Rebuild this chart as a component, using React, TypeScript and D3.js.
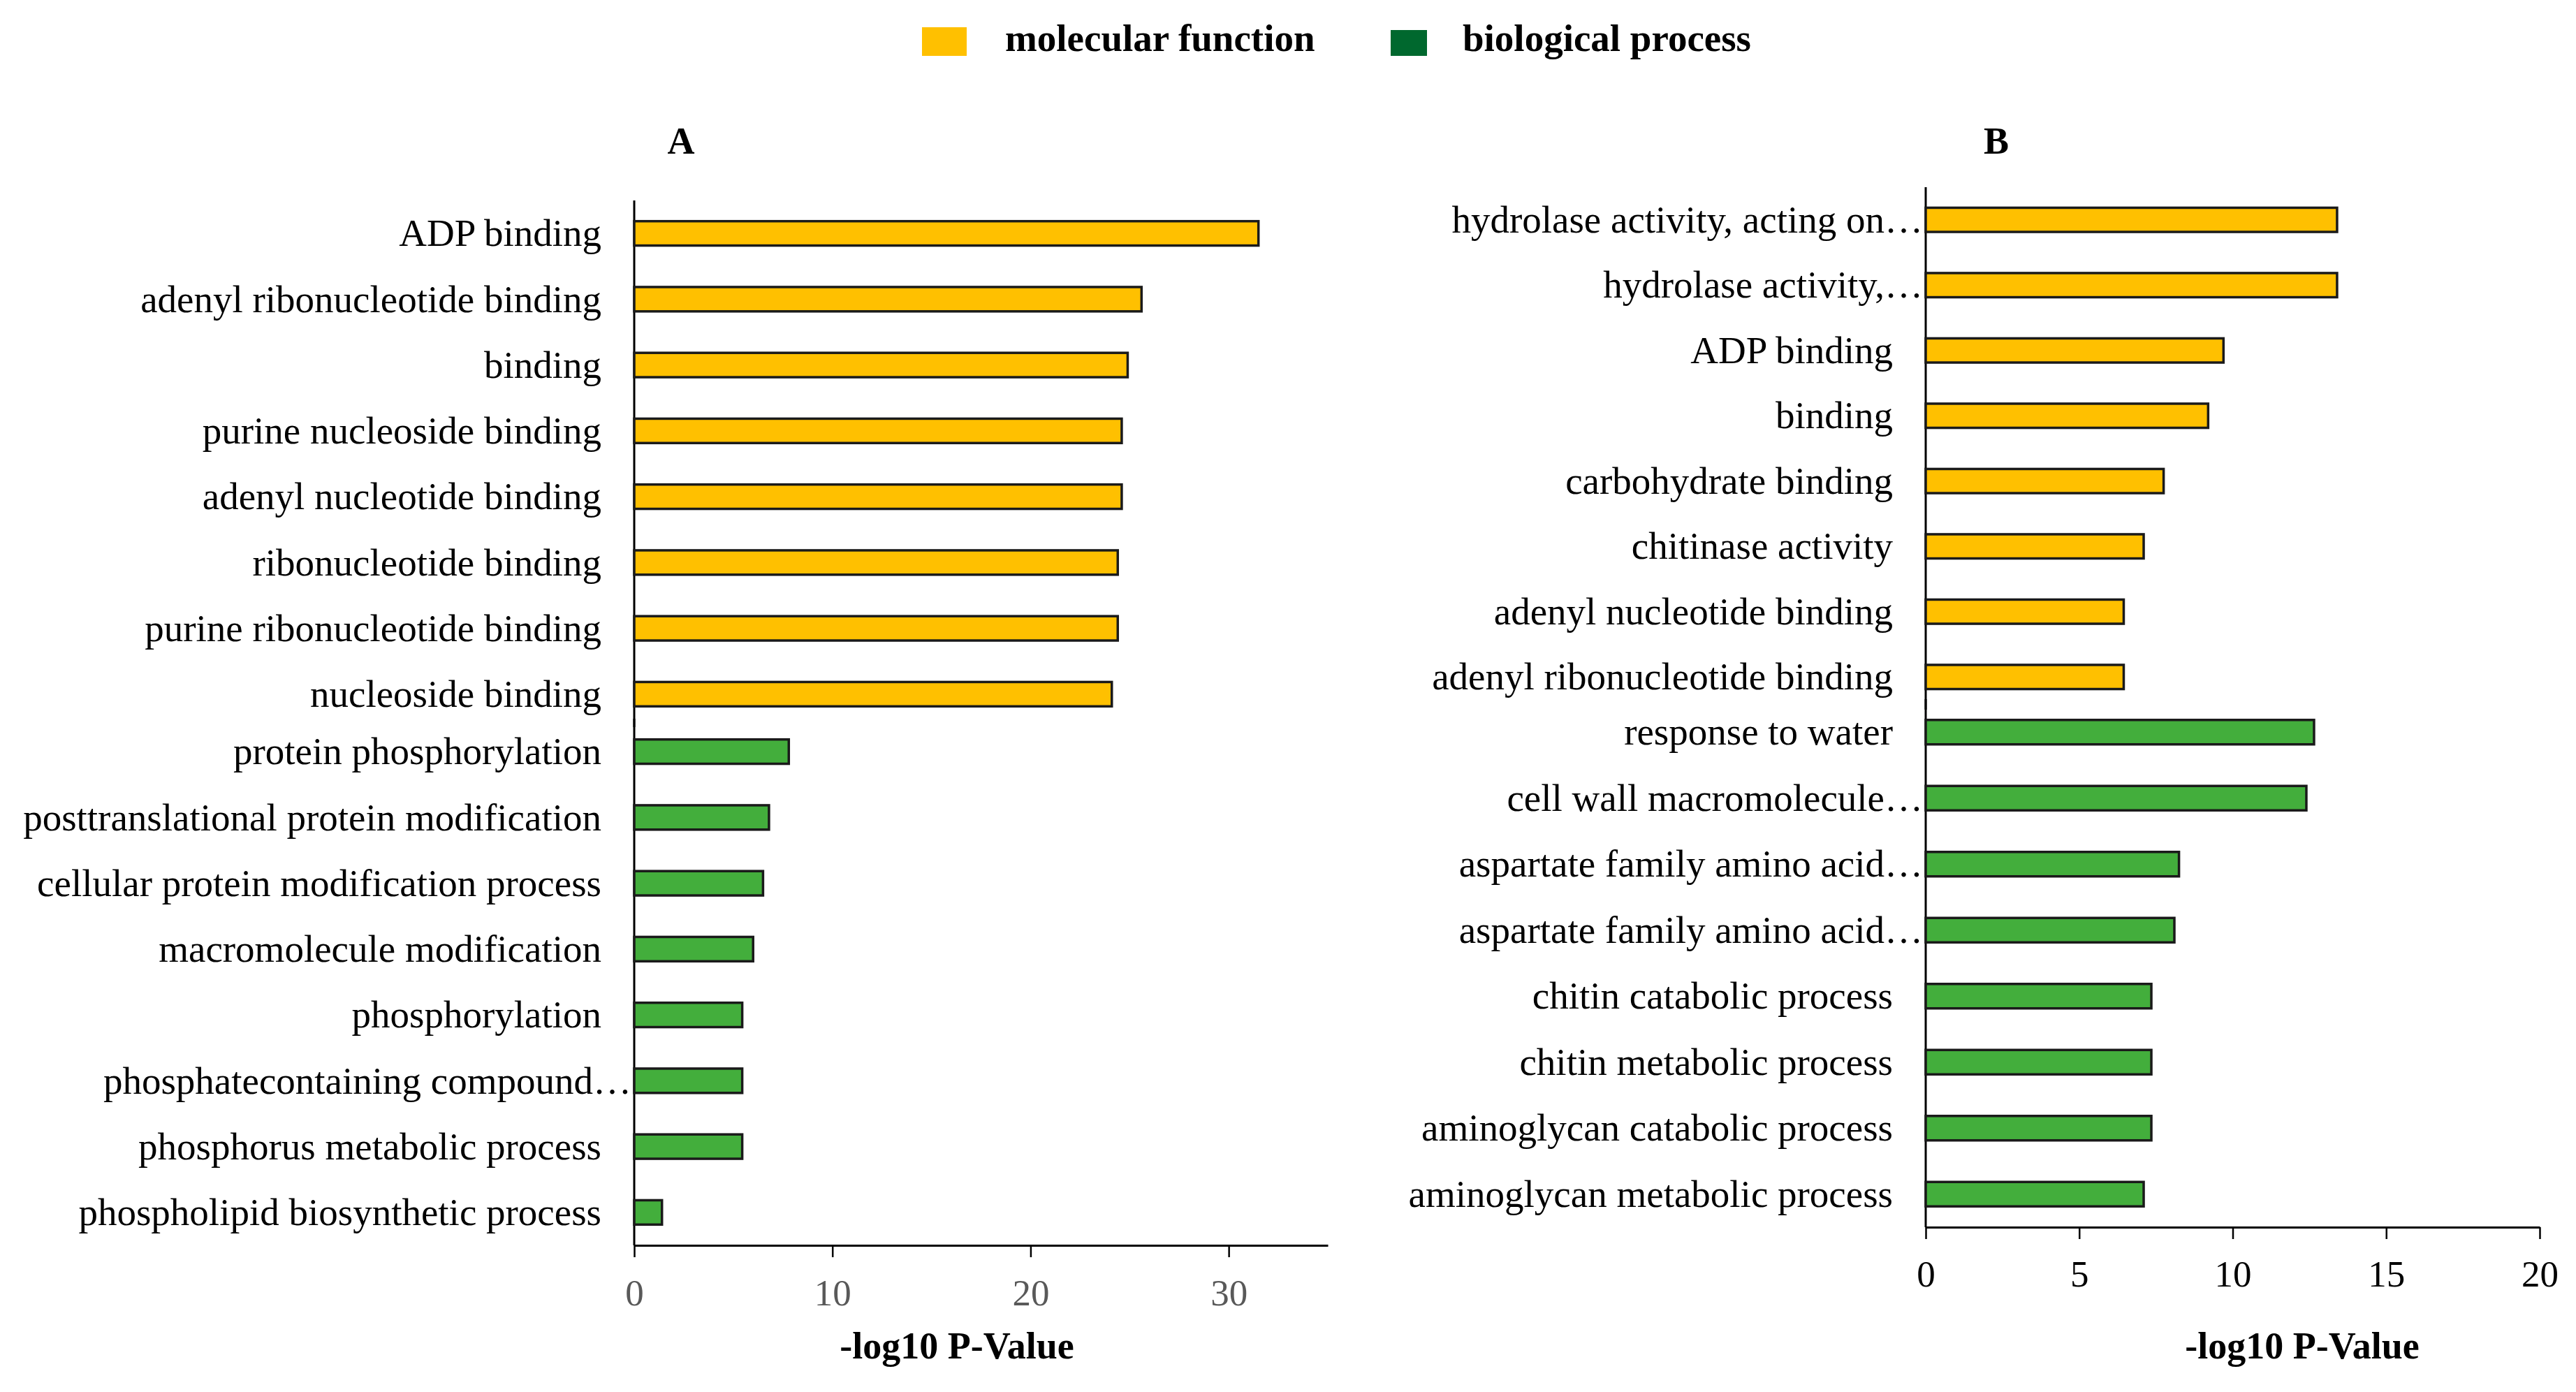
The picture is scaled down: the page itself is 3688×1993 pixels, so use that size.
import { useEffect, useRef } from 'react';
import * as d3 from 'd3';

// Panel A data
const aMfLabels = [
  'ADP binding',
  'adenyl ribonucleotide binding',
  'binding',
  'purine nucleoside binding',
  'adenyl nucleotide binding',
  'ribonucleotide binding',
  'purine ribonucleotide binding',
  'nucleoside binding',
];
const aMfValues = [31.5, 25.6, 24.9, 24.6, 24.6, 24.4, 24.4, 24.1];

const aBpLabels = [
  'protein phosphorylation',
  'posttranslational protein modification',
  'cellular protein modification process',
  'macromolecule modification',
  'phosphorylation',
  'phosphatecontaining compound…',
  'phosphorus metabolic process',
  'phospholipid biosynthetic process',
];
const aBpValues = [7.8, 6.8, 6.5, 6.0, 5.45, 5.45, 5.45, 1.4];

// Panel B data
const bMfLabels = [
  'hydrolase activity, acting on…',
  'hydrolase activity,…',
  'ADP binding',
  'binding',
  'carbohydrate binding',
  'chitinase activity',
  'adenyl nucleotide binding',
  'adenyl ribonucleotide binding',
];
const bMfValues = [13.4, 13.4, 9.7, 9.2, 7.75, 7.1, 6.45, 6.45];

const bBpLabels = [
  'response to water',
  'cell wall macromolecule…',
  'aspartate family amino acid…',
  'aspartate family amino acid…',
  'chitin catabolic process',
  'chitin metabolic process',
  'aminoglycan catabolic process',
  'aminoglycan metabolic process',
];
const bBpValues = [12.65, 12.4, 8.25, 8.1, 7.35, 7.35, 7.35, 7.1];

const aTicks = [0, 10, 20, 30];
const bTicks = [0, 5, 10, 15, 20];

const seriesNames = ['molecular function', 'biological process'];

const YELLOW = '#FFC000';
const GREEN = '#43AE3C';
const LEGEND_GREEN = '#00682E';
const FONT = '"Liberation Serif", "Times New Roman", serif';

interface PanelCfg {
  title: string;
  x0: number;
  x1: number;
  max: number;
  ticks: number[];
  tickColor: string;
  tickBaseline: number;
  mfTop: number;
  mfBottom: number;
  bpTop: number;
  bpBottom: number;
  mfLabels: string[];
  mfValues: number[];
  bpLabels: string[];
  bpValues: number[];
  titleX: number;
  axisTitleX: number;
}

function drawPanel(svg: d3.Selection<SVGSVGElement, unknown, null, undefined>, p: PanelCfg) {
  const g = svg.append('g');
  const x = d3.scaleLinear().domain([0, p.max]).range([p.x0, p.x1]);

  const sections = [
    { labels: p.mfLabels, values: p.mfValues, top: p.mfTop, bottom: p.mfBottom, color: YELLOW },
    { labels: p.bpLabels, values: p.bpValues, top: p.bpTop, bottom: p.bpBottom, color: GREEN },
  ];

  sections.forEach((s, si) => {
    const keys = s.labels.map((_, i) => `${si}-${i}`);
    const y = d3.scaleBand<string>()
      .domain(keys)
      .range([s.top, s.bottom])
      .paddingInner(0.63)
      .paddingOuter(0.315);

    g.append('line')
      .attr('x1', p.x0).attr('x2', p.x0)
      .attr('y1', s.top).attr('y2', s.bottom)
      .attr('stroke', '#000').attr('stroke-width', 3);

    g.selectAll(null)
      .data(s.values)
      .join('rect')
      .attr('x', x(0))
      .attr('y', (_, i) => y(keys[i]) ?? 0)
      .attr('width', d => x(d) - x(0))
      .attr('height', y.bandwidth())
      .attr('fill', s.color)
      .attr('stroke', '#1a1a1a')
      .attr('stroke-width', 3.5);

    g.selectAll(null)
      .data(s.labels)
      .join('text')
      .attr('x', d => (d.endsWith('…') ? p.x0 - 4 : p.x0 - 47))
      .attr('y', (_, i) => (y(keys[i]) ?? 0) + y.bandwidth() / 2)
      .attr('dy', '0.33em')
      .attr('text-anchor', 'end')
      .style('font-family', FONT)
      .style('font-size', '55px')
      .style('fill', '#000')
      .text(d => d);
  });

  // X axis
  const axisY = p.bpBottom;
  const ax = g.append('g')
    .attr('transform', `translate(0,${axisY})`)
    .call(d3.axisBottom(x).tickValues(p.ticks).tickSize(17).tickSizeOuter(0).tickFormat(d => `${d}`));
  ax.select('.domain').attr('stroke', '#000').attr('stroke-width', 3);
  ax.selectAll('.tick line').attr('stroke', '#000').attr('stroke-width', 2.5);
  ax.selectAll('.tick text')
    .attr('y', p.tickBaseline - axisY)
    .attr('dy', null)
    .style('font-family', FONT)
    .style('font-size', '53px')
    .style('fill', p.tickColor);

  // panel letter
  g.append('text')
    .attr('x', p.titleX)
    .attr('y', 220)
    .attr('text-anchor', 'middle')
    .style('font-family', FONT)
    .style('font-size', '54px')
    .style('font-weight', 'bold')
    .text(p.title);

  // axis title
  g.append('text')
    .attr('x', p.axisTitleX)
    .attr('y', 1945)
    .attr('text-anchor', 'middle')
    .style('font-family', FONT)
    .style('font-size', '54px')
    .style('font-weight', 'bold')
    .text('-log10 P-Value');
}

export default function App() {
  const svgRef = useRef<SVGSVGElement>(null);
  const width = 3688;
  const height = 1993;

  useEffect(() => {
    if (!svgRef.current) return;
    const svg = d3.select(svgRef.current);
    svg.selectAll('*').remove();

    svg.append('rect').attr('width', width).attr('height', height).attr('fill', '#fff');

    // Legend
    const legend = [
      { name: seriesNames[0], color: YELLOW, x: 1320, y: 39, w: 64, h: 41, tx: 1439 },
      { name: seriesNames[1], color: LEGEND_GREEN, x: 1991, y: 43, w: 52, h: 37, tx: 2094 },
    ];
    legend.forEach(l => {
      svg.append('rect')
        .attr('x', l.x).attr('y', l.y)
        .attr('width', l.w).attr('height', l.h)
        .attr('fill', l.color);
      svg.append('text')
        .attr('x', l.tx)
        .attr('y', 73)
        .style('font-family', FONT)
        .style('font-size', '55px')
        .style('font-weight', 'bold')
        .text(l.name);
    });

    drawPanel(svg, {
      title: 'A',
      x0: 908,
      x1: 1901,
      max: 35,
      ticks: aTicks,
      tickColor: '#595959',
      tickBaseline: 1869,
      mfTop: 287,
      mfBottom: 1041,
      bpTop: 1029,
      bpBottom: 1783,
      mfLabels: aMfLabels,
      mfValues: aMfValues,
      bpLabels: aBpLabels,
      bpValues: aBpValues,
      titleX: 975,
      axisTitleX: 1370,
    });

    drawPanel(svg, {
      title: 'B',
      x0: 2757,
      x1: 3636,
      max: 20,
      ticks: bTicks,
      tickColor: '#000',
      tickBaseline: 1842,
      mfTop: 268,
      mfBottom: 1016,
      bpTop: 1001,
      bpBottom: 1757,
      mfLabels: bMfLabels,
      mfValues: bMfValues,
      bpLabels: bBpLabels,
      bpValues: bBpValues,
      titleX: 2858,
      axisTitleX: 3296,
    });
  }, []);

  return (
    <svg
      ref={svgRef}
      width={width}
      height={height}
      viewBox={`0 0 ${width} ${height}`}
      style={{ position: 'absolute', left: 0, top: 0, display: 'block' }}
    />
  );
}
